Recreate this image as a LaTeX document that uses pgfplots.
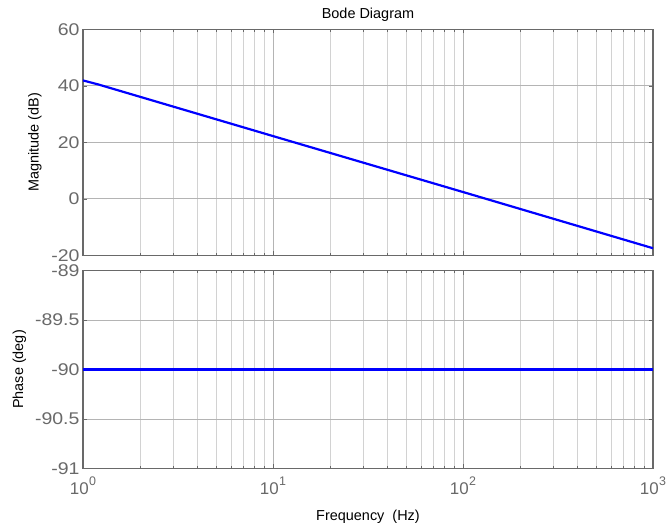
\documentclass[border=0pt]{standalone}
\usepackage{fontspec}
\setmainfont{Liberation Sans}
\usepackage{pgfplots}
\pgfplotsset{compat=1.18}

\definecolor{axgray}{RGB}{105,105,105}
\definecolor{majgray}{RGB}{180,180,180}
\definecolor{mingray}{RGB}{210,210,210}
\definecolor{bodeblue}{RGB}{0,0,255}

% slightly widened tick numbers
\newcommand{\tl}[1]{\scalebox{1.15}[1]{#1}}
% decade label 10^n
\newcommand{\dec}[1]{10\hspace{0.5bp}\raisebox{0.55em}{\fontsize{12.5}{12.5}\selectfont #1}}

\pgfplotsset{
  bode/.style={
    scale only axis, width=570bp,
    xmin=1, xmax=1000,
    axis line style={axgray, line width=1.1bp},
    every tick/.style={axgray, line width=0.5bp},
    major tick length=4bp, minor tick length=2.5bp,
    tick align=inside,
    xtick={1,10,100,1000},
    xmajorgrids, xminorgrids, ymajorgrids,
    major grid style={majgray, line width=0.6bp},
    minor grid style={mingray, line width=0.6bp},
    tick label style={font=\fontsize{17}{17}\selectfont, text=axgray},
    label style={font=\fontsize{14.5}{15}\selectfont},
    title style={font=\fontsize{14.5}{15}\selectfont},
  },
}

\begin{document}
\begin{tikzpicture}
% magnitude response
\begin{semilogxaxis}[bode,
  at={(0,0)}, anchor=north west,
  height=226bp,
  ymin=-20, ymax=60,
  ytick={-20,0,20,40,60},
  yticklabels={\tl{-20},\tl{0},\tl{20},\tl{40},\tl{60}},
  xticklabels=\empty,
  title={Bode Diagram},
  title style={yshift=-2bp},
  ylabel={Magnitude (dB)},
  ylabel style={at={(axis description cs:-0.0842,0.5)}, anchor=center},
]
\addplot[draw=bodeblue, line width=2.2bp] coordinates {
  (1,41.9) (1.2,40.5) (10,22.2) (100,2.4) (1000,-17.5)
};
\end{semilogxaxis}
% phase response
\begin{semilogxaxis}[bode,
  at={(0,-241.4bp)}, anchor=north west,
  height=197.6bp,
  ymin=-91, ymax=-89,
  ytick={-91,-90.5,-90,-89.5,-89},
  yticklabels={\tl{-91},\tl{-90.5},\tl{-90},\tl{-89.5},\tl{-89}},
  xticklabels={\dec{0},\dec{1},\dec{2},\dec{3}},
  xticklabel style={yshift=-5bp},
  ylabel={Phase (deg)},
  ylabel style={at={(axis description cs:-0.1114,0.5)}, anchor=center},
  xlabel={Frequency\ \ (Hz)},
  xlabel style={at={(axis description cs:0.5,-0.2465)}, anchor=center},
]
\addplot[draw=bodeblue, line width=2.2bp] coordinates {
  (1,-90) (10,-90) (100,-90) (1000,-90)
};
\end{semilogxaxis}
\pgfresetboundingbox
\path[use as bounding box] (-83bp,29.3bp) rectangle (583bp,-501.7bp);
\end{tikzpicture}
\end{document}
